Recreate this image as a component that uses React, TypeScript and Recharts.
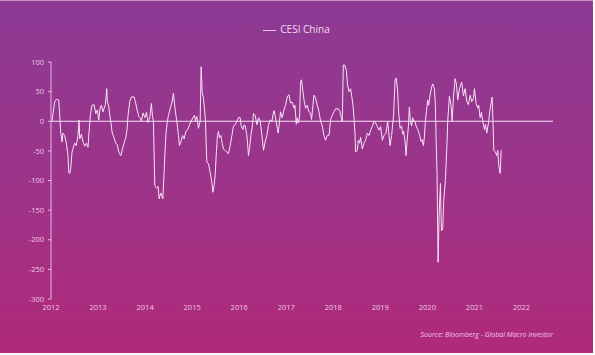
import React from 'react';
import { LineChart, Line, XAxis, YAxis, ReferenceLine } from 'recharts';

const yearTicks = [2012, 2013, 2014, 2015, 2016, 2017, 2018, 2019, 2020, 2021, 2022];
const valueTicks = [-300, -250, -200, -150, -100, -50, 0, 50, 100];

// decimal years of each reading
const dates = [
  2012.021, 2012.043, 2012.079, 2012.113, 2012.164, 2012.185, 2012.206, 2012.234, 2012.255, 2012.291,
  2012.326, 2012.362, 2012.377, 2012.398, 2012.419, 2012.447, 2012.468, 2012.504, 2012.538, 2012.574,
  2012.596, 2012.611, 2012.645, 2012.681, 2012.717, 2012.751, 2012.787, 2012.809, 2012.836, 2012.872,
  2012.915, 2012.951, 2012.985, 2013.015, 2013.043, 2013.07, 2013.106, 2013.128, 2013.155, 2013.185,
  2013.198, 2013.228, 2013.249, 2013.27, 2013.298, 2013.34, 2013.377, 2013.411, 2013.44, 2013.483,
  2013.511, 2013.553, 2013.589, 2013.617, 2013.638, 2013.674, 2013.709, 2013.766, 2013.794, 2013.83,
  2013.866, 2013.9, 2013.921, 2013.957, 2013.994, 2014.028, 2014.064, 2014.1, 2014.134, 2014.155,
  2014.177, 2014.206, 2014.24, 2014.277, 2014.298, 2014.334, 2014.377, 2014.404, 2014.426, 2014.447,
  2014.474, 2014.496, 2014.532, 2014.568, 2014.602, 2014.623, 2014.645, 2014.674, 2014.709, 2014.73,
  2014.76, 2014.794, 2014.83, 2014.866, 2014.909, 2014.943, 2014.979, 2015.015, 2015.049, 2015.07,
  2015.1, 2015.134, 2015.17, 2015.191, 2015.213, 2015.24, 2015.262, 2015.283, 2015.298, 2015.313,
  2015.347, 2015.383, 2015.419, 2015.44, 2015.468, 2015.489, 2015.511, 2015.538, 2015.56, 2015.581,
  2015.611, 2015.638, 2015.666, 2015.702, 2015.738, 2015.772, 2015.809, 2015.845, 2015.879, 2015.915,
  2015.951, 2015.985, 2016.021, 2016.043, 2016.079, 2016.106, 2016.128, 2016.164, 2016.198, 2016.219,
  2016.249, 2016.283, 2016.304, 2016.34, 2016.377, 2016.411, 2016.447, 2016.483, 2016.517, 2016.553,
  2016.589, 2016.623, 2016.66, 2016.696, 2016.73, 2016.745, 2016.772, 2016.809, 2016.83, 2016.857,
  2016.879, 2016.915, 2016.951, 2016.985, 2017.021, 2017.057, 2017.091, 2017.128, 2017.164, 2017.185,
  2017.213, 2017.234, 2017.255, 2017.283, 2017.304, 2017.326, 2017.355, 2017.383, 2017.411, 2017.447,
  2017.483, 2017.517, 2017.538, 2017.568, 2017.589, 2017.623, 2017.66, 2017.696, 2017.73, 2017.766,
  2017.802, 2017.836, 2017.872, 2017.909, 2017.943, 2017.979, 2018.015, 2018.049, 2018.106, 2018.143,
  2018.177, 2018.191, 2018.213, 2018.24, 2018.277, 2018.304, 2018.334, 2018.368, 2018.389, 2018.419,
  2018.44, 2018.462, 2018.474, 2018.511, 2018.532, 2018.56, 2018.581, 2018.617, 2018.653, 2018.687,
  2018.723, 2018.76, 2018.794, 2018.83, 2018.866, 2018.9, 2018.936, 2018.972, 2019.006, 2019.043,
  2019.079, 2019.121, 2019.155, 2019.177, 2019.206, 2019.24, 2019.262, 2019.283, 2019.313, 2019.34,
  2019.368, 2019.389, 2019.419, 2019.453, 2019.474, 2019.496, 2019.526, 2019.547, 2019.568, 2019.596,
  2019.617, 2019.638, 2019.666, 2019.687, 2019.709, 2019.738, 2019.76, 2019.794, 2019.83, 2019.866,
  2019.887, 2019.915, 2019.936, 2019.957, 2019.979, 2020.006, 2020.028, 2020.057, 2020.091, 2020.113,
  2020.149, 2020.17, 2020.185, 2020.206, 2020.219, 2020.228, 2020.249, 2020.277, 2020.298, 2020.326,
  2020.347, 2020.383, 2020.419, 2020.432, 2020.468, 2020.504, 2020.526, 2020.553, 2020.589, 2020.617,
  2020.645, 2020.681, 2020.73, 2020.766, 2020.802, 2020.836, 2020.872, 2020.909, 2020.943, 2020.979,
  2021.0, 2021.036, 2021.07, 2021.091, 2021.121, 2021.149, 2021.177, 2021.213, 2021.234, 2021.262,
  2021.298, 2021.326, 2021.355, 2021.377, 2021.394, 2021.411, 2021.447, 2021.474, 2021.496, 2021.517,
  2021.547, 2021.568,
];

const cesi = [
  0, 13, 33, 37, 36, 10, -18, -35, -20, -24,
  -37, -58, -86, -88, -80, -52, -46, -37, -41, -24,
  2, -30, -22, -35, -42, -37, -44, -18, 10, 27,
  28, 13, 19, 2, 22, 27, 16, 22, 28, 55,
  33, 25, 10, 0, -18, -28, -37, -40, -52, -58,
  -49, -37, -28, -14, 10, 33, 41, 41, 33, 19,
  8, 5, 0, 14, 6, 15, -2, 6, 30, 10,
  0, -108, -113, -110, -131, -121, -131, -86, -46, -18,
  0, 10, 21, 31, 47, 31, 16, 0, -24, -41,
  -35, -24, -30, -17, -14, -6, 0, 6, 10, 0,
  8, -12, 0, 92, 50, 39, 22, 0, -40, -69,
  -72, -86, -103, -120, -108, -92, -58, -24, -17, -28,
  -24, -37, -47, -49, -52, -55, -41, -24, -8, -6,
  0, 6, 6, -8, -14, -6, -8, -24, -58, -47,
  -24, -6, 13, 10, -6, 6, 0, -24, -49, -34,
  -24, -6, 2, 0, 16, 18, 6, -12, -20, 0,
  16, 6, 19, 27, 41, 45, 31, 32, 22, 27,
  -5, 6, -3, 6, 67, 70, 50, 33, 22, 27,
  16, 14, 3, 27, 44, 39, 27, 16, 0, -8,
  -24, -32, -24, -24, 3, 10, 16, 21, 21, 16,
  3, 0, 95, 95, 86, 61, 50, 55, 44, 27,
  5, -22, -52, -49, -32, -37, -27, -47, -37, -32,
  -20, -24, -15, -9, 0, -3, -9, -15, -9, -32,
  -24, -20, 0, -17, -41, -24, -5, 11, 70, 73,
  50, 16, -12, -8, -22, -17, -34, -58, -34, -9,
  24, 0, -8, 6, 0, 0, -8, -14, -22, -34,
  -31, -41, -27, 0, 16, 36, 27, 44, 58, 63,
  55, 27, -29, -92, -180, -238, -160, -105, -185, -182,
  -134, -100, -32, 0, 42, 27, 0, 38, 72, 63,
  36, 55, 66, 43, 55, 34, 28, 44, 33, 38,
  55, 30, 22, 27, 6, 15, 0, -14, -5, -20,
  -3, 16, 31, 41, 0, -49, -52, -58, -49, -75,
  -88, -49,
];

const data = dates.map((d, i) => ({ date: d, value: cesi[i] }));

const tickStyle = { fill: '#ecc9e8', fontSize: 7.5, fontFamily: 'Open Sans' };

export default function App() {
  return (
    <div
      style={{
        position: 'absolute',
        left: 0,
        top: 0,
        width: 593,
        height: 353,
        background: 'linear-gradient(to bottom, #8d3a95 0%, #9c3489 50%, #b0297a 100%)',
        borderTop: '1px solid #c98fc9',
        boxSizing: 'border-box',
        fontFamily: 'Open Sans',
      }}
    >
      <div
        style={{
          position: 'absolute',
          top: 21,
          left: 0,
          width: 593,
          textAlign: 'center',
          color: '#f3dcf1',
          fontSize: 10,
          lineHeight: '14px',
        }}
      >
        <span
          style={{
            display: 'inline-block',
            width: 13,
            height: 1,
            background: '#e9c3e7',
            verticalAlign: 'middle',
            marginRight: 4,
          }}
        />
        CESI China
      </div>
      <LineChart width={593} height={352} data={data} margin={{ top: 61, right: 40, bottom: 34, left: 0 }}>
        <XAxis
          dataKey="date"
          type="number"
          domain={[2012, 2022.67]}
          ticks={yearTicks}
          tickFormatter={(v: number) => String(v)}
          axisLine={false}
          tickLine={false}
          tickSize={0}
          tickMargin={6}
          height={20}
          tick={tickStyle}
          interval={0}
        />
        <YAxis
          type="number"
          domain={[-300, 100]}
          ticks={valueTicks}
          width={51}
          axisLine={{ stroke: '#e6b8e2', strokeWidth: 1 }}
          tickLine={{ stroke: '#e6b8e2' }}
          tickSize={3}
          tickMargin={4}
          tick={tickStyle}
          interval={0}
        />
        <ReferenceLine y={0} stroke="#f6e2f4" strokeWidth={1} />
        <Line
          type="linear"
          dataKey="value"
          stroke="#f8e4f6"
          strokeWidth={1}
          dot={false}
          isAnimationActive={false}
        />
        <text
          x={553}
          y={336}
          textAnchor="end"
          fill="#ecc9e8"
          fontSize={7}
          fontStyle="italic"
          fontFamily="Open Sans"
        >
          Source: Bloomberg - Global Macro Investor
        </text>
      </LineChart>
    </div>
  );
}
